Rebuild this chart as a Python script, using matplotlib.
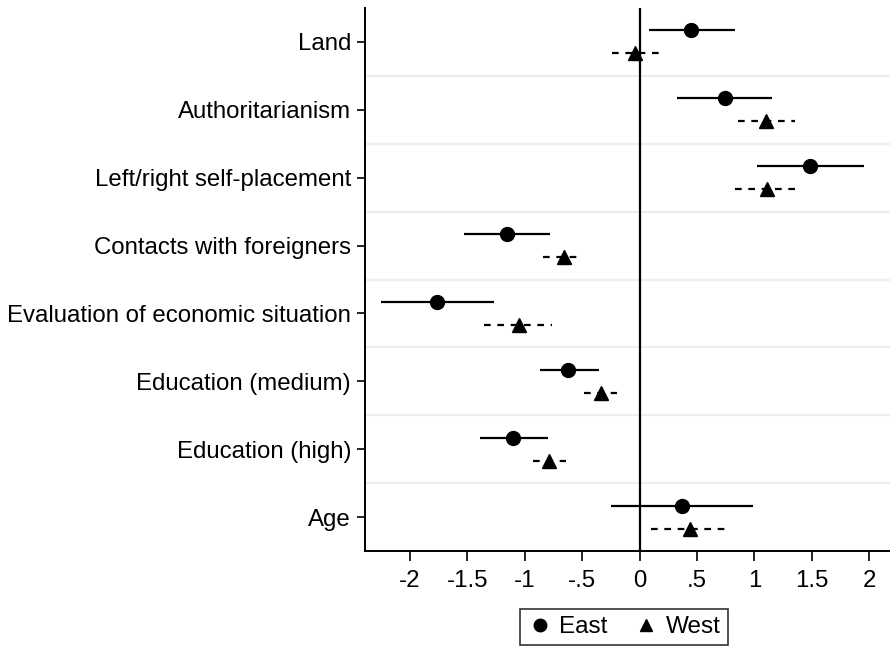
import numpy as np
import matplotlib
matplotlib.use("Agg")
from matplotlib import pyplot as plt
from matplotlib.lines import Line2D

plt.rcParams['font.family'] = ['Liberation Sans', 'DejaVu Sans']

# DATA
labels = ["Land", "Authoritarianism", "Left/right self-placement",
          "Contacts with foreigners", "Evaluation of economic situation",
          "Education (medium)", "Education (high)", "Age"]

east_est = [0.45, 0.74, 1.48, -1.15, -1.76, -0.62, -1.10, 0.37]
east_lo = [0.08, 0.33, 1.02, -1.53, -2.25, -0.87, -1.39, -0.25]
east_hi = [0.83, 1.15, 1.95, -0.78, -1.27, -0.355, -0.80, 0.99]

west_est = [-0.04, 1.10, 1.11, -0.655, -1.05, -0.34, -0.785, 0.44]
west_lo = [-0.24, 0.86, 0.83, -0.84, -1.35, -0.48, -0.93, 0.10]
west_hi = [0.17, 1.35, 1.40, -0.52, -0.76, -0.20, -0.64, 0.77]

xticks = [-2, -1.5, -1, -0.5, 0, 0.5, 1, 1.5, 2]
xticklabels = ["-2", "-1.5", "-1", "-.5", "0", ".5", "1", "1.5", "2"]

fig = plt.figure(figsize=(8.9, 6.5), dpi=100)
ax = fig.add_axes([365 / 890, 1 - 551 / 650, 1 - 365 / 890, 543 / 650])

pos = np.arange(len(labels))
off = 0.17

# grid lines between groups
for g in np.arange(0.5, len(labels) - 0.5, 1):
    ax.axhline(g, color='#e6eff1', lw=1.6, zorder=0)

ax.axvline(0, color='black', lw=1.6, zorder=1)

# East: solid
ax.hlines(pos - off, east_lo, east_hi, color='black', lw=1.6, zorder=2)
ax.plot(east_est, pos - off, 'o', color='black', ms=10, zorder=3)
# West: dashed
ax.hlines(pos + off, west_lo, west_hi, color='black', lw=1.6,
          linestyles=(0, (3, 3)), zorder=2)
ax.plot(west_est, pos + off, '^', color='black', ms=10, zorder=3)

ax.set_ylim(len(labels) - 0.5, -0.5)
ax.set_xlim(-2.39, 2.18)
ax.set_yticks(pos)
ax.set_yticklabels(labels, fontsize=17.3)
ax.set_xticks(xticks)
ax.set_xticklabels(xticklabels, fontsize=17.3)
ax.tick_params(axis='y', length=6, width=1.2, pad=4)
ax.tick_params(axis='x', length=7, width=1.2, pad=7)

for s in ['top', 'right']:
    ax.spines[s].set_visible(False)
for s in ['left', 'bottom']:
    ax.spines[s].set_linewidth(1.4)

handles = [Line2D([], [], marker='o', color='black', ls='none', ms=9),
           Line2D([], [], marker='^', color='black', ls='none', ms=9)]
leg = fig.legend(handles, ["East", "West"], loc='center',
                 bbox_to_anchor=(624 / 890, 1 - 627 / 650), ncol=2,
                 fontsize=17.5, frameon=True, fancybox=False,
                 edgecolor='black', handletextpad=0.3, columnspacing=1.1,
                 borderpad=0.3, handlelength=1.0)
leg.get_frame().set_linewidth(1.2)

fig.savefig("out.png", dpi=100)
